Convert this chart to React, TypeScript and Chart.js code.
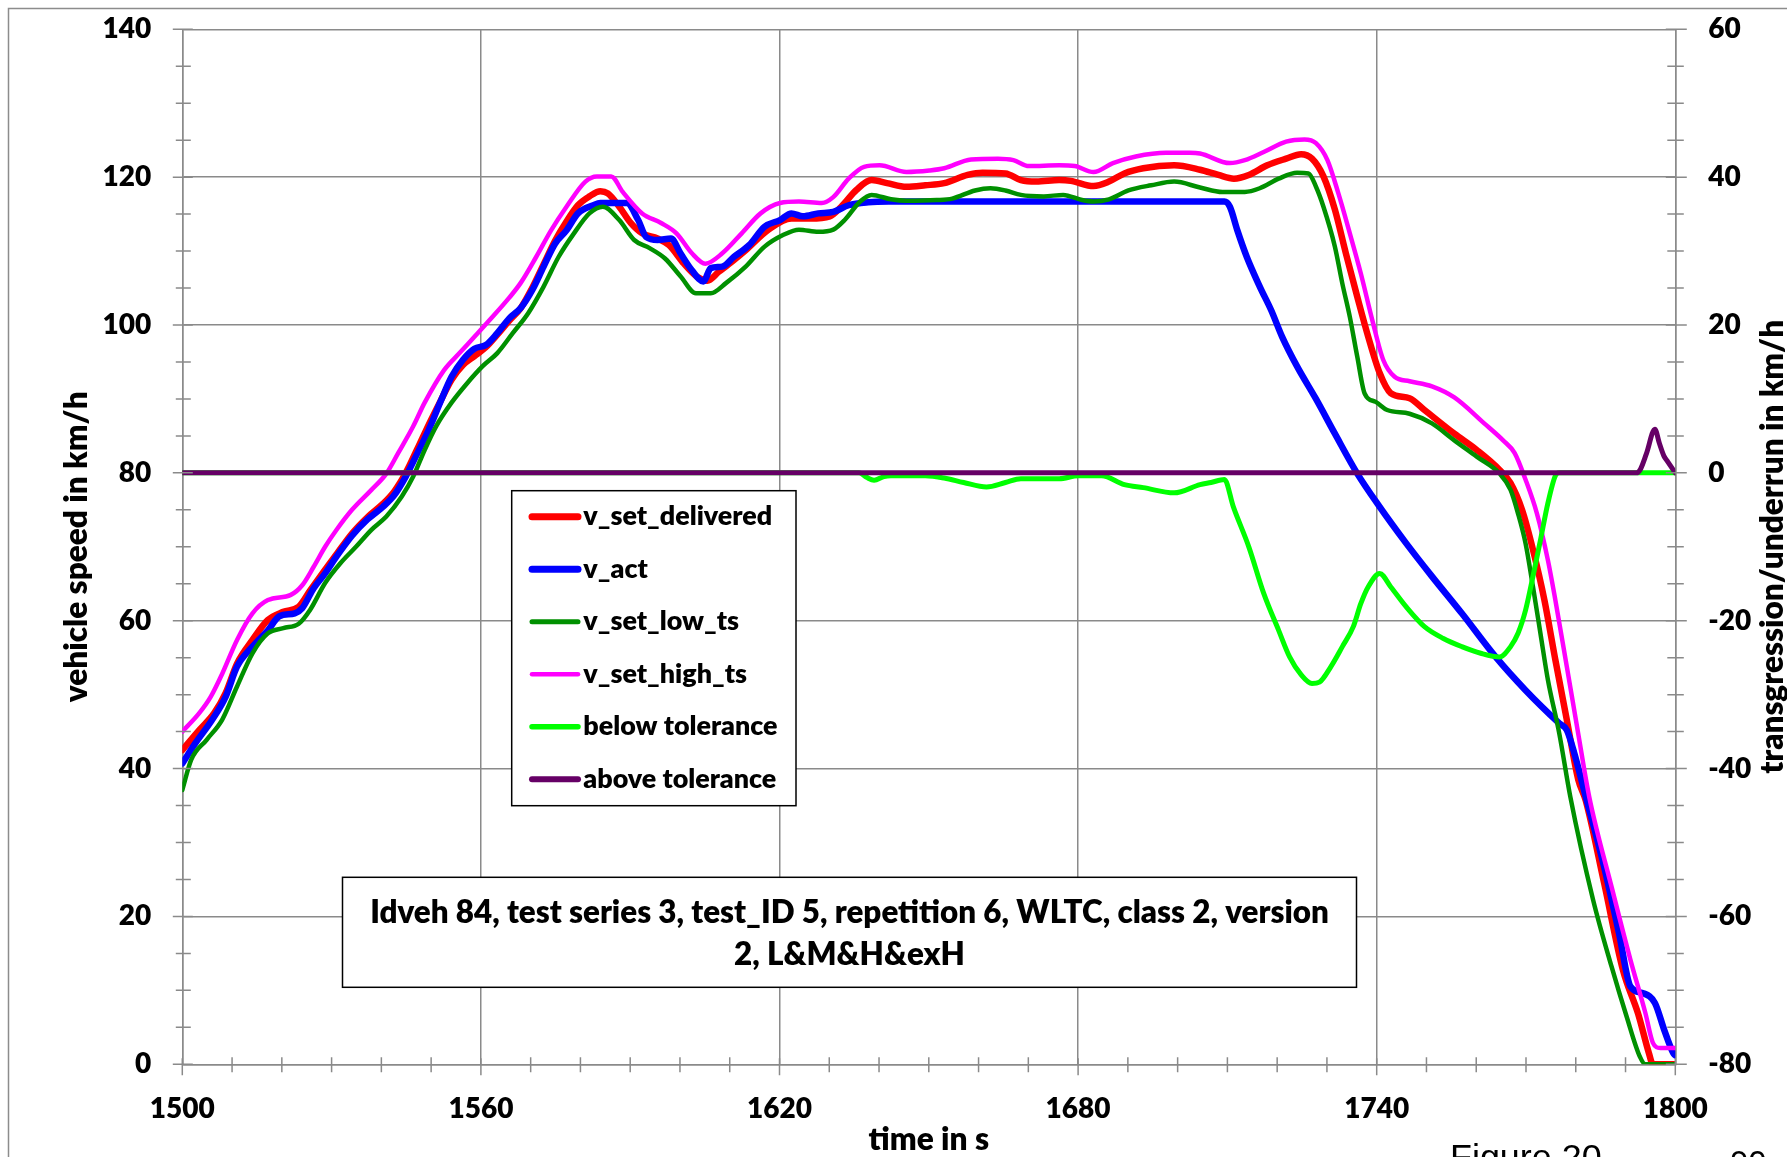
import React, { useEffect, useRef } from "react";
import { Chart, registerables } from "chart.js";

Chart.register(...registerables);

const W = 1787;
const H = 1157;
const FONT = "Lato, 'Open Sans', sans-serif";
const WEIGHT = "800";

// ---- data (time in s, speed in km/h) ----
const deliveredTime = [1500, 1503.4, 1506.4, 1508.7, 1511, 1514.1, 1517.2, 1520.3, 1523.4, 1525.7, 1528.7, 1531, 1534.1, 1537.2, 1540.3, 1542.6, 1544.9, 1547.2, 1549.5, 1551.8, 1554.1, 1556.4, 1558.7, 1561, 1563.3, 1565.7, 1568, 1570.3, 1572.6, 1574.9, 1577.2, 1579.5, 1581.8, 1584, 1585.5, 1587.8, 1590.1, 1592.4, 1595.5, 1597.8, 1600.8, 1603.5, 1605.5, 1607.8, 1610.5, 1613.2, 1617.8, 1622.4, 1626.2, 1630.1, 1632.4, 1635.5, 1638.5, 1641.6, 1645.5, 1649.3, 1653.1, 1657.8, 1660.8, 1665.4, 1668.5, 1671.6, 1676.2, 1678.5, 1683.1, 1686.2, 1689.3, 1693.1, 1699.3, 1704.5, 1708.2, 1711.3, 1714.3, 1718, 1721.8, 1724.8, 1727, 1729.3, 1731.6, 1733.8, 1736.1, 1738.3, 1740.6, 1742.8, 1746.6, 1749.6, 1755.6, 1760.1, 1764.7, 1766.9, 1769.2, 1771.4, 1773.7, 1775.9, 1778.2, 1780.5, 1782, 1785.7, 1789.5, 1792.5, 1794.7, 1795.5, 1800];
const deliveredSpeed = [42.5, 45.2, 47.5, 50.2, 54.2, 57.4, 60.1, 61.2, 61.9, 64.1, 66.9, 69.0, 71.8, 74.0, 75.8, 77.5, 80.0, 83.2, 86.5, 89.6, 92.6, 94.6, 95.8, 97.0, 98.7, 100.6, 102.3, 105.0, 108.2, 111.4, 114.0, 116.2, 117.4, 118.1, 117.8, 116.0, 113.8, 112.4, 111.7, 110.8, 108.3, 106.5, 106.0, 107.2, 108.6, 110.1, 112.9, 114.4, 114.4, 114.7, 116.0, 118.3, 119.6, 119.2, 118.7, 118.9, 119.2, 120.3, 120.6, 120.5, 119.6, 119.4, 119.6, 119.5, 118.8, 119.4, 120.5, 121.2, 121.6, 121.0, 120.3, 119.8, 120.3, 121.6, 122.5, 123.1, 122.5, 120.1, 115.6, 109.7, 103.8, 98.4, 93.5, 90.8, 90.1, 88.5, 85.3, 83.1, 80.4, 78.6, 75.0, 69.6, 62.8, 54.7, 46.6, 38.5, 35.7, 24.5, 12.7, 6.9, 1.5, 0, 0];

const actTime = [1500, 1502.6, 1506, 1508.7, 1511, 1514.1, 1517.2, 1519.5, 1522.6, 1524.1, 1526.4, 1528.7, 1531, 1534.1, 1537.2, 1540.3, 1542.6, 1544.9, 1547.2, 1549.5, 1551.8, 1554.1, 1556.4, 1558.7, 1561, 1563.3, 1565.7, 1568, 1570.3, 1572.6, 1574.9, 1577.2, 1579.5, 1582.6, 1584, 1589.3, 1591.6, 1593.2, 1595.5, 1598.2, 1600.1, 1602.4, 1604.7, 1606.2, 1608.5, 1610.8, 1613.9, 1617, 1620.1, 1622.4, 1624.7, 1627.8, 1630.8, 1633.9, 1637.8, 1642, 1709.4, 1710.5, 1712, 1713.9, 1716.5, 1718.8, 1721, 1724, 1727.8, 1731.6, 1736.1, 1740.6, 1745.9, 1751.1, 1757.1, 1763.9, 1769.9, 1776.7, 1778.2, 1779.7, 1782, 1785.7, 1788.7, 1791, 1793.6, 1795.9, 1797.8, 1799.6, 1800];
const actSpeed = [40.7, 43.4, 46.6, 49.7, 53.8, 56.5, 58.7, 60.6, 61.0, 61.7, 64.4, 66.4, 68.7, 71.5, 73.7, 75.4, 77.0, 79.5, 82.6, 85.8, 89.5, 93.0, 95.3, 96.8, 97.3, 98.9, 100.9, 102.3, 104.7, 107.9, 111.0, 112.8, 115.1, 116.2, 116.5, 116.5, 114.2, 111.9, 111.5, 111.7, 109.7, 107.4, 105.9, 107.7, 107.9, 109.2, 110.8, 113.3, 114.2, 115.1, 114.7, 115.1, 115.3, 116.2, 116.6, 116.7, 116.7, 116.0, 112.8, 109.2, 105.2, 102.0, 98.4, 94.4, 90.0, 85.3, 79.9, 75.4, 70.5, 66.0, 61.0, 55.1, 50.6, 46.1, 45.2, 42.1, 36.2, 26.7, 17.7, 10.5, 9.6, 8.3, 4.6, 1.5, 1.2];

const lowTime = [1500, 1501.8, 1504.9, 1508, 1511, 1514.1, 1517.2, 1520.3, 1523.4, 1525.7, 1528.7, 1531.8, 1534.9, 1538, 1541, 1544.1, 1546.4, 1548.7, 1551, 1554.1, 1557.2, 1560.3, 1563.3, 1566.4, 1569.5, 1572.6, 1575.6, 1578.7, 1581.8, 1584.5, 1587.8, 1590.8, 1593.9, 1597, 1600.1, 1603.2, 1606.2, 1609.3, 1613.2, 1617, 1620.8, 1623.9, 1627.8, 1630.8, 1633.1, 1636.2, 1638.5, 1642.4, 1645.5, 1651.6, 1654.7, 1659.3, 1662.4, 1665.4, 1668.5, 1673.1, 1677, 1680.8, 1683.1, 1686.2, 1690.1, 1694.7, 1699.3, 1704.5, 1709, 1713.5, 1716.5, 1720.3, 1724, 1726.3, 1727.8, 1729.3, 1731.6, 1733.1, 1734.6, 1736.1, 1737.6, 1739.8, 1742.1, 1746.6, 1751.1, 1755.6, 1760.1, 1764.7, 1766.9, 1768.4, 1769.9, 1771.4, 1772.9, 1774.4, 1776.7, 1778.9, 1783.5, 1787.2, 1790.2, 1792.9, 1794, 1800];
const lowSpeed = [37.1, 41.2, 43.9, 46.6, 51.1, 55.6, 58.3, 59.0, 59.6, 61.5, 65.1, 67.8, 70.0, 72.3, 74.1, 76.8, 79.5, 83.1, 86.3, 89.5, 92.1, 94.4, 96.2, 98.9, 101.6, 105.2, 109.2, 112.4, 115.1, 116.0, 114.2, 111.5, 110.4, 109.0, 106.6, 104.3, 104.3, 105.7, 107.9, 110.6, 112.2, 112.9, 112.6, 112.9, 114.2, 116.7, 117.6, 117.0, 116.8, 116.9, 117.1, 118.2, 118.5, 118.2, 117.6, 117.4, 117.6, 116.9, 116.7, 117.0, 118.2, 118.9, 119.4, 118.6, 118.0, 118.0, 118.5, 119.8, 120.6, 120.5, 118.7, 116.0, 110.6, 105.6, 101.1, 95.7, 90.7, 89.6, 88.5, 88.0, 86.7, 84.4, 82.2, 79.9, 77.7, 74.5, 70.5, 64.6, 58.3, 52.0, 44.7, 36.2, 22.2, 13.2, 6.5, 1.0, 0, 0];

const highTime = [1500, 1503.4, 1505.7, 1508, 1511, 1514.1, 1517.2, 1521.8, 1524.1, 1526.4, 1528.7, 1531, 1534.1, 1538, 1541, 1543.4, 1546.4, 1548.7, 1552.6, 1555.7, 1558.7, 1561.8, 1565.7, 1568, 1571.1, 1574.1, 1577.2, 1581, 1583.3, 1586.2, 1588.5, 1592.4, 1596.2, 1599.3, 1602.4, 1605.1, 1608.5, 1612.4, 1616.2, 1620.1, 1623.9, 1628.5, 1630.8, 1633.9, 1637, 1640.1, 1645.5, 1650.1, 1653.1, 1658.5, 1663.9, 1667, 1670.1, 1676.2, 1679.3, 1683.1, 1687, 1691.6, 1697.7, 1702.4, 1704.5, 1710.5, 1713.5, 1717.3, 1721.8, 1725.5, 1727.8, 1730.1, 1732.3, 1734.6, 1736.8, 1739.1, 1741.3, 1743.6, 1746.6, 1751.1, 1755.6, 1761.6, 1765.4, 1767.7, 1769.9, 1772.2, 1774.4, 1775.9, 1778.2, 1780.5, 1782.7, 1787.2, 1791, 1794, 1795.5, 1797, 1800];
const highSpeed = [45.0, 47.5, 49.7, 52.8, 57.4, 61.0, 62.8, 63.5, 64.8, 67.3, 70.0, 72.3, 75.0, 77.7, 79.9, 82.7, 86.3, 89.5, 93.9, 96.2, 98.4, 100.7, 103.7, 105.7, 109.2, 112.8, 116.0, 119.4, 120.1, 120.1, 118.0, 115.1, 113.8, 112.4, 109.7, 108.3, 109.7, 112.4, 115.1, 116.5, 116.7, 116.5, 117.3, 119.8, 121.4, 121.6, 120.7, 120.9, 121.2, 122.4, 122.5, 122.3, 121.5, 121.6, 121.5, 120.7, 121.9, 122.8, 123.3, 123.3, 123.2, 121.9, 122.3, 123.4, 124.8, 125.1, 124.6, 122.3, 117.8, 112.4, 107.0, 100.7, 95.3, 93.0, 92.4, 91.7, 90.2, 86.7, 84.4, 82.7, 79.1, 74.5, 68.2, 62.8, 53.8, 44.7, 36.2, 24.0, 14.1, 6.9, 2.9, 2.2, 2.2];

// transgression / underrun (right axis, km/h)
const belowTime = [1500, 1636, 1637.5, 1639, 1641, 1642.4, 1649.3, 1653.1, 1657, 1661.6, 1665.4, 1668.5, 1676.2, 1680.1, 1684.7, 1689.3, 1693.1, 1699.3, 1704.5, 1706.7, 1709.4, 1711.2, 1714.3, 1717.3, 1720.3, 1722.5, 1724.8, 1727, 1728.5, 1730.8, 1733.1, 1735.3, 1736.8, 1738.3, 1740.6, 1742.8, 1745.9, 1749.6, 1753.4, 1757.1, 1760.9, 1764.7, 1766.9, 1768.4, 1769.9, 1771.4, 1772.9, 1774.4, 1775.9, 1776.7, 1800];
const belowValue = [0, 0, -0.6, -1.0, -0.5, -0.4, -0.4, -0.7, -1.3, -1.9, -1.3, -0.8, -0.8, -0.4, -0.4, -1.6, -2.0, -2.7, -1.6, -1.3, -0.9, -4.6, -10.0, -16.3, -21.3, -24.9, -27.3, -28.5, -28.3, -26.2, -23.5, -20.8, -17.7, -15.4, -13.6, -15.4, -18.1, -20.8, -22.4, -23.5, -24.4, -24.9, -23.5, -21.7, -18.6, -14.0, -9.1, -4.1, -0.4, 0, 0];

const aboveTime = [1500, 1792.2, 1793, 1794.2, 1795.9, 1796.8, 1797.7, 1798.5, 1800];
const aboveValue = [0, 0, 0.5, 2.6, 5.9, 4.0, 2.3, 1.5, 0];

const seriesLabels = ["v_set_delivered", "v_act", "v_set_low_ts", "v_set_high_ts", "below tolerance", "above tolerance"];
const seriesColors = ["#ff0000", "#0000ff", "#009000", "#ff00ff", "#00ff00", "#660066"];
const seriesWidths = [6.5, 6.5, 4.5, 4.5, 5, 5];
const legendWidths = [7, 7, 5, 4.5, 5.5, 6];

const xTitle = "time in s";
const yTitle = "vehicle speed in km/h";
const y2Title = "transgression/underrun in km/h";
const noteLines = ["Idveh 84, test series 3, test_ID 5, repetition 6, WLTC, class 2, version", "2, L&M&H&exH"];
const figureCaption = "Figure 20";
const pageNumber = "90";

const GRID = "#8a8a8a";

function pts(t: number[], v: number[]) {
  return t.map((x, i) => ({ x, y: v[i] }));
}

function fitSize(ctx: CanvasRenderingContext2D, text: string, target: number, weight: string, family: string) {
  ctx.font = `${weight} 100px ${family}`;
  const w = ctx.measureText(text).width;
  return (100 * target) / w;
}

const decorPlugin = {
  id: "decor",
  beforeDraw(chart: any) {
    const ctx = chart.ctx as CanvasRenderingContext2D;
    ctx.save();
    ctx.fillStyle = "#ffffff";
    ctx.fillRect(0, 0, chart.width, chart.height);
    ctx.strokeStyle = "#8c8c8c";
    ctx.lineWidth = 1.5;
    ctx.beginPath();
    ctx.moveTo(8.5, chart.height + 5);
    ctx.lineTo(8.5, 8.5);
    ctx.lineTo(chart.width + 5, 8.5);
    ctx.stroke();
    ctx.restore();
  },
  afterDatasetsDraw(chart: any) {
    const ctx = chart.ctx as CanvasRenderingContext2D;
    const { left, right, bottom } = chart.chartArea;
    const sx = chart.scales.x;
    const sy = chart.scales.y;
    const sy2 = chart.scales.y2;
    ctx.save();
    ctx.strokeStyle = GRID;
    ctx.lineWidth = 1.5;
    ctx.beginPath();
    for (let v = 0; v <= 140; v += 5) {
      const p = sy.getPixelForValue(v);
      const major = v % 20 === 0;
      ctx.moveTo(left - (major ? 9.5 : 6.5), p);
      ctx.lineTo(left + (major ? 10.5 : 8.5), p);
    }
    for (let v = -80; v <= 60; v += 5) {
      const p = sy2.getPixelForValue(v);
      const major = v % 20 === 0;
      ctx.moveTo(right - (major ? 9.5 : 8), p);
      ctx.lineTo(right + (major ? 11.5 : 8.5), p);
    }
    for (let t = 1500; t <= 1800; t += 10) {
      const p = sx.getPixelForValue(t);
      const major = (t - 1500) % 60 === 0;
      ctx.moveTo(p, bottom - (major ? 6 : 7));
      ctx.lineTo(p, bottom + (major ? 11 : 8));
    }
    ctx.stroke();

    // legend box
    const lx0 = 511.7, ly0 = 490.7, lx1 = 796, ly1 = 805.7;
    ctx.fillStyle = "#ffffff";
    ctx.fillRect(lx0, ly0, lx1 - lx0, ly1 - ly0);
    ctx.strokeStyle = "#000000";
    ctx.lineWidth = 1.5;
    ctx.strokeRect(lx0, ly0, lx1 - lx0, ly1 - ly0);
    const legendSize = fitSize(ctx, seriesLabels[0], 189, WEIGHT, FONT);
    ctx.font = `${WEIGHT} ${legendSize}px ${FONT}`;
    ctx.textAlign = "left";
    ctx.textBaseline = "alphabetic";
    ctx.lineCap = "round";
    seriesLabels.forEach((lab, i) => {
      const cy = 516.7 + i * 52.5;
      ctx.strokeStyle = seriesColors[i];
      ctx.lineWidth = legendWidths[i];
      ctx.beginPath();
      ctx.moveTo(532, cy);
      ctx.lineTo(578, cy);
      ctx.stroke();
      ctx.fillStyle = "#000000";
      ctx.fillText(lab, 583.3, cy + 8.5);
    });

    // annotation box
    const ax0 = 342.5, ay0 = 877.3, ax1 = 1356.5, ay1 = 987.3;
    ctx.fillStyle = "#ffffff";
    ctx.fillRect(ax0, ay0, ax1 - ax0, ay1 - ay0);
    ctx.strokeStyle = "#000000";
    ctx.lineWidth = 1.5;
    ctx.lineCap = "butt";
    ctx.strokeRect(ax0, ay0, ax1 - ax0, ay1 - ay0);
    const noteSize = fitSize(ctx, noteLines[0], 959, WEIGHT, FONT);
    ctx.font = `${WEIGHT} ${noteSize}px ${FONT}`;
    ctx.fillStyle = "#000000";
    ctx.textAlign = "center";
    ctx.fillText(noteLines[0], (ax0 + ax1) / 2, 923.3);
    ctx.fillText(noteLines[1], (ax0 + ax1) / 2, 964.5);
    ctx.restore();
  },
  afterDraw(chart: any) {
    const ctx = chart.ctx as CanvasRenderingContext2D;
    const { left, right, top, bottom } = chart.chartArea;
    const midY = (top + bottom) / 2;
    ctx.save();
    ctx.fillStyle = "#000000";
    ctx.textBaseline = "alphabetic";
    ctx.textAlign = "center";
    // x title
    const xs = fitSize(ctx, xTitle, 120.6, WEIGHT, FONT);
    ctx.font = `${WEIGHT} ${xs}px ${FONT}`;
    ctx.fillText(xTitle, (left + right) / 2, 1149.5);
    // left title
    const ys = fitSize(ctx, yTitle, 311, WEIGHT, FONT);
    ctx.save();
    ctx.translate(87, midY);
    ctx.rotate(-Math.PI / 2);
    ctx.font = `${WEIGHT} ${ys}px ${FONT}`;
    ctx.fillText(yTitle, 0, 0);
    ctx.restore();
    // right title
    const y2s = fitSize(ctx, y2Title, 454, WEIGHT, FONT);
    ctx.save();
    ctx.translate(1783.3, midY);
    ctx.rotate(-Math.PI / 2);
    ctx.font = `${WEIGHT} ${y2s}px ${FONT}`;
    ctx.fillText(y2Title, 0, 0);
    ctx.restore();
    // page artefacts at the bottom edge
    const fam = "'Liberation Sans', Arial, sans-serif";
    const fs = fitSize(ctx, figureCaption, 151.7, "normal", fam);
    ctx.font = `normal ${fs}px ${fam}`;
    ctx.textAlign = "left";
    ctx.fillText(figureCaption, 1450, 1169);
    const ps = fitSize(ctx, pageNumber, 36.7, "normal", fam);
    ctx.font = `normal ${ps}px ${fam}`;
    ctx.fillText(pageNumber, 1730, 1173.5);
    ctx.restore();
  },
};

export default function App() {
  const ref = useRef<HTMLCanvasElement | null>(null);

  useEffect(() => {
    if (!ref.current) return;
    const tickFont = { family: FONT, size: 28, weight: 800 as any };
    const plain = (v: any) => String(v);
    const seriesData = [
      pts(deliveredTime, deliveredSpeed),
      pts(actTime, actSpeed),
      pts(lowTime, lowSpeed),
      pts(highTime, highSpeed),
      pts(belowTime, belowValue),
      pts(aboveTime, aboveValue),
    ];
    const chart = new Chart(ref.current, {
      type: "line",
      data: {
        datasets: seriesData.map((d, i) => ({
          label: seriesLabels[i],
          data: d,
          borderColor: seriesColors[i],
          backgroundColor: seriesColors[i],
          borderWidth: seriesWidths[i],
          pointRadius: 0,
          fill: false,
          cubicInterpolationMode: "monotone" as const,
          borderCapStyle: "round" as const,
          borderJoinStyle: "round" as const,
          yAxisID: i >= 4 ? "y2" : "y",
          order: 6 - i,
        })),
      },
      options: {
        responsive: false,
        animation: false,
        devicePixelRatio: 1,
        layout: { autoPadding: false, padding: { top: 29.3, left: 0, right: 0, bottom: 0 } },
        plugins: { legend: { display: false }, tooltip: { enabled: false } },
        scales: {
          x: {
            type: "linear",
            position: "bottom",
            min: 1500,
            max: 1800,
            ticks: { stepSize: 60, font: tickFont, color: "#000", padding: 28, maxRotation: 0, callback: plain },
            grid: { color: GRID, lineWidth: 1.5, drawTicks: false },
            border: { color: GRID, width: 1.5 },
            afterFit: (s: any) => {
              s.height = H - 1064.3;
              s.paddingLeft = 0;
              s.paddingRight = 0;
            },
          },
          y: {
            type: "linear",
            position: "left",
            min: 0,
            max: 140,
            ticks: { stepSize: 20, font: tickFont, color: "#000", padding: 31, callback: plain },
            grid: { color: GRID, lineWidth: 1.5, drawTicks: false },
            border: { color: GRID, width: 1.5 },
            afterFit: (s: any) => {
              s.width = 182.3;
              s.paddingTop = 0;
              s.paddingBottom = 0;
            },
          },
          y2: {
            type: "linear",
            position: "right",
            min: -80,
            max: 60,
            ticks: { stepSize: 20, font: tickFont, color: "#000", padding: 33, callback: plain },
            grid: { display: false, drawTicks: false },
            border: { color: GRID, width: 1.5 },
            afterFit: (s: any) => {
              s.width = W - 1675.3;
              s.paddingTop = 0;
              s.paddingBottom = 0;
            },
          },
        },
      },
      plugins: [decorPlugin],
    });
    return () => chart.destroy();
  }, []);

  return (
    <div style={{ position: "absolute", left: 0, top: 0, width: W, height: H, overflow: "hidden", background: "#fff" }}>
      <canvas ref={ref} width={W} height={H} style={{ display: "block", width: W, height: H }} />
    </div>
  );
}
